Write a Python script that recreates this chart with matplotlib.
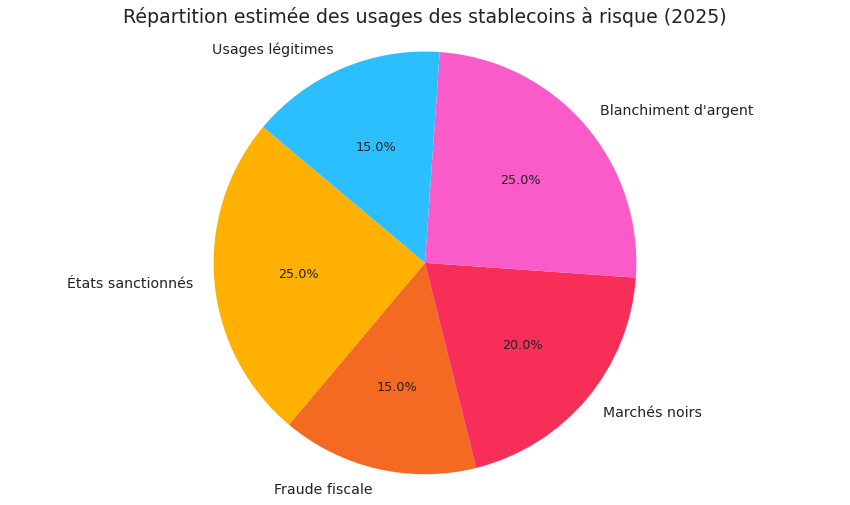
import matplotlib.pyplot as plt

# Data (order matches wedges counterclockwise from startangle=140)
labels = ["États sanctionnés", "Fraude fiscale", "Marchés noirs",
          "Blanchiment d'argent", "Usages légitimes"]
shares = [25, 15, 20, 25, 15]
colors = ["#FFB000", "#F46A22", "#F72F58", "#F95BC8", "#2BBFFF"]

fig = plt.figure(figsize=(8.5, 5.06), dpi=100)
ax = fig.add_axes([0.05, 0.019, 0.9, 0.919])

wedges, texts, autotexts = ax.pie(
    shares, labels=labels, colors=colors, autopct='%1.1f%%',
    startangle=140, textprops={'fontsize': 10.2, 'color': '#222222'})
for t in autotexts:
    t.set_fontsize(9.2)
ax.axis('equal')
ax.set_title("Répartition estimée des usages des stablecoins à risque (2025)",
             fontsize=13.7, color='#222222', pad=6)

fig.savefig("out.png", dpi=100)
